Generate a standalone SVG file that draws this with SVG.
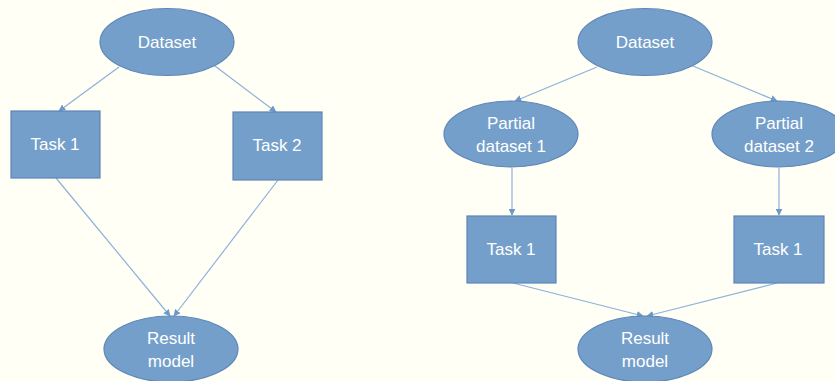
<svg xmlns="http://www.w3.org/2000/svg" width="835" height="381" viewBox="0 0 835 381">
<style>
.n{fill:#749FCA;stroke:#5E86B8;stroke-width:1.2}
.t{fill:#FFFFFF;font-family:"Liberation Sans",Arial,sans-serif;font-size:17px;text-anchor:middle}
.c{stroke:#8DB1DA;stroke-width:1.2;fill:none;marker-end:url(#a)}
</style>
<defs>
<marker id="a" viewBox="0 0 10 10" refX="9" refY="5" markerWidth="7" markerHeight="7" markerUnits="userSpaceOnUse" orient="auto">
<path d="M0,0 L10,5 L0,10 z" fill="#6F97C8"/>
</marker>
</defs>
<rect x="0" y="0" width="835" height="381" fill="#FFFFF5"/>
<g id="connectors">
<line class="c" x1="119" y1="67" x2="59" y2="111"/>
<line class="c" x1="215" y1="66" x2="276" y2="112"/>
<line class="c" x1="56" y1="178" x2="170" y2="316"/>
<line class="c" x1="278" y1="180" x2="174" y2="316"/>
<line class="c" x1="597" y1="67" x2="515" y2="101"/>
<line class="c" x1="693" y1="66" x2="777" y2="101"/>
<line class="c" x1="512" y1="168" x2="512" y2="215"/>
<line class="c" x1="779" y1="168" x2="779" y2="215"/>
<line class="c" x1="513" y1="283" x2="643" y2="316"/>
<line class="c" x1="777" y1="283" x2="647" y2="316"/>
</g>
<g id="dataset-left"><ellipse class="n" cx="167" cy="42" rx="67" ry="33.5"/><text class="t" x="167" y="48">Dataset</text></g>
<g id="task1-left"><rect class="n" x="11" y="111" width="89" height="67"/><text class="t" x="55" y="150">Task 1</text></g>
<g id="task2-left"><rect class="n" x="233" y="112" width="89" height="68"/><text class="t" x="277" y="151">Task 2</text></g>
<g id="result-left"><ellipse class="n" cx="171" cy="349" rx="67" ry="33"/><text class="t" x="171" y="344">Result</text><text class="t" x="171" y="367">model</text></g>
<g id="dataset-right"><ellipse class="n" cx="645" cy="42" rx="67" ry="33.5"/><text class="t" x="645" y="48">Dataset</text></g>
<g id="partial1"><ellipse class="n" cx="511" cy="134" rx="67" ry="33"/><text class="t" x="511" y="129">Partial</text><text class="t" x="511" y="152">dataset 1</text></g>
<g id="partial2"><ellipse class="n" cx="779" cy="134" rx="67" ry="33"/><text class="t" x="779" y="129">Partial</text><text class="t" x="779" y="152">dataset 2</text></g>
<g id="task1-right-a"><rect class="n" x="467" y="216" width="89" height="67"/><text class="t" x="511" y="255">Task 1</text></g>
<g id="task1-right-b"><rect class="n" x="734" y="216" width="90" height="67"/><text class="t" x="778" y="255">Task 1</text></g>
<g id="result-right"><ellipse class="n" cx="645" cy="349" rx="67" ry="33"/><text class="t" x="645" y="344">Result</text><text class="t" x="645" y="367">model</text></g>
</svg>
